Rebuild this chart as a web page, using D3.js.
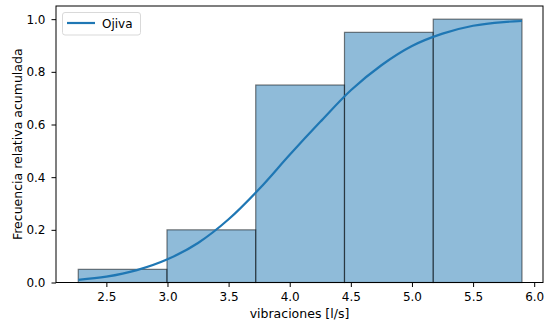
<!DOCTYPE html>
<html><head><meta charset="utf-8">
<script src="https://cdn.jsdelivr.net/npm/d3@7"></script>
<style>body{margin:0;background:#fff}svg{display:block}text{font-family:"DejaVu Sans",sans-serif}</style>
</head><body><div id="c"></div>
<script>
// Bin edges of the cumulative histogram
const binEdges = [2.27, 2.996, 3.722, 4.448, 5.174, 5.90];
// Cumulative relative frequencies per bin
const cumFreq = [0.05, 0.20, 0.75, 0.95, 1.00];
// Ogive curve points
const ojivaX = [2.27, 2.5, 2.75, 3.0, 3.25, 3.5, 3.75, 4.0, 4.25, 4.5, 4.75, 5.0, 5.25, 5.5, 5.75, 5.9];
const ojivaY = [0.010, 0.022, 0.047, 0.088, 0.15, 0.24, 0.355, 0.485, 0.61, 0.73, 0.825, 0.898, 0.945, 0.975, 0.989, 0.993];
const xTicks = [2.5, 3.0, 3.5, 4.0, 4.5, 5.0, 5.5, 6.0];
const yTicks = [0.0, 0.2, 0.4, 0.6, 0.8, 1.0];

const W = 545, H = 324;
const m = {l: 56, r: 2, t: 6, b: 41.5};
const svg = d3.select("#c").append("svg").attr("width", W).attr("height", H);
const x = d3.scaleLinear().domain([2.088, 6.072]).range([m.l, W - m.r]);
const y = d3.scaleLinear().domain([0, 1.05]).range([H - m.b, m.t]);

const bars = cumFreq.map((v, i) => ({x0: binEdges[i], x1: binEdges[i + 1], v}));
svg.append("g").selectAll("rect").data(bars).join("rect")
  .attr("x", d => x(d.x0)).attr("y", d => y(d.v))
  .attr("width", d => x(d.x1) - x(d.x0)).attr("height", d => y(0) - y(d.v))
  .attr("fill", "#1f77b4").attr("fill-opacity", 0.5)
  .attr("stroke", "#000").attr("stroke-opacity", 0.5).attr("stroke-width", 1.2);

const pts = ojivaX.map((v, i) => [v, ojivaY[i]]);
svg.append("path").datum(pts)
  .attr("d", d3.line().x(d => x(d[0])).y(d => y(d[1])).curve(d3.curveMonotoneX))
  .attr("fill", "none").attr("stroke", "#1f77b4").attr("stroke-width", 2.2);

const fs = 12;
const xa = svg.append("g").attr("transform", `translate(0,${H - m.b})`)
  .call(d3.axisBottom(x).tickValues(xTicks).tickFormat(d3.format(".1f")).tickSize(4.5).tickPadding(5));
const ya = svg.append("g").attr("transform", `translate(${m.l},0)`)
  .call(d3.axisLeft(y).tickValues(yTicks).tickFormat(d3.format(".1f")).tickSize(4.5).tickPadding(6));
[xa, ya].forEach(a => {
  a.select(".domain").remove();
  a.selectAll("line").attr("stroke", "#000").attr("stroke-width", 1);
  a.selectAll("text").attr("font-size", fs).attr("fill", "#000").attr("font-family", "DejaVu Sans");
});

svg.append("rect").attr("x", m.l).attr("y", m.t)
  .attr("width", W - m.r - m.l).attr("height", H - m.b - m.t)
  .attr("fill", "none").attr("stroke", "#000").attr("stroke-width", 1);

svg.append("text").attr("x", (m.l + W - m.r) / 2).attr("y", 318)
  .attr("text-anchor", "middle").attr("font-size", 12.5).text("vibraciones [l/s]");
svg.append("text").attr("transform", `translate(22,${(m.t + H - m.b) / 2}) rotate(-90)`)
  .attr("text-anchor", "middle").attr("font-size", 12.5).text("Frecuencia relativa acumulada");

const lg = svg.append("g");
lg.append("rect").attr("x", 62.5).attr("y", 12.5).attr("width", 78).attr("height", 22.5).attr("rx", 2.5)
  .attr("fill", "#fff").attr("fill-opacity", 0.8).attr("stroke", "#d9d9d9").attr("stroke-width", 1);
lg.append("line").attr("x1", 67).attr("x2", 95).attr("y1", 23).attr("y2", 23)
  .attr("stroke", "#1f77b4").attr("stroke-width", 2.2);
lg.append("text").attr("x", 102).attr("y", 27.5).attr("font-size", 12).text("Ojiva");
</script></body></html>
